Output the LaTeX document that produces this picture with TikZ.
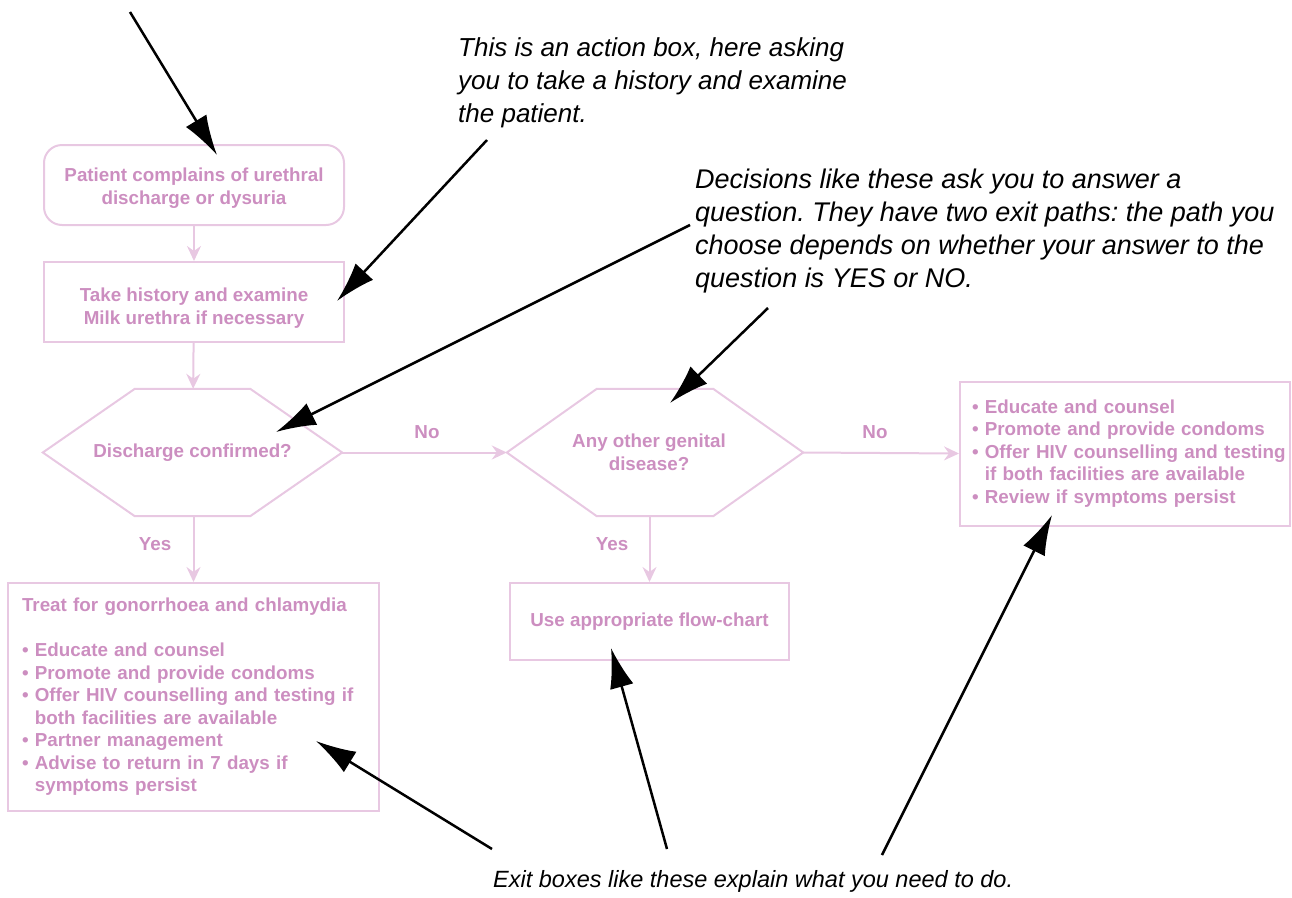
\documentclass[tikz,border=0pt]{standalone}
\usepackage{fontspec}
\setmainfont{Liberation Sans}
\usetikzlibrary{arrows.meta,calc}
\definecolor{pinkline}{RGB}{232,200,226}
\definecolor{pinktext}{RGB}{204,142,192}
\frenchspacing
\begin{document}
\begin{tikzpicture}[x=1pt,y=-1pt,
  boxtext/.style={inner sep=0pt, font=\fontsize{18.8}{22.5}\selectfont\bfseries, text=pinktext, align=center},
  box/.style={boxtext, draw=pinkline, line width=2pt},
  listbox/.style={box, align=left},
  hexline/.style={draw=pinkline, line width=2pt, line join=miter},
  flow/.style={draw=pinkline, line width=2pt, -{Stealth[length=15pt,width=14pt,inset=5pt]}},
  lbl/.style={font=\fontsize{18.8}{22}\selectfont\bfseries, text=pinktext, inner sep=0pt},
  note/.style={font=\fontsize{26}{33}\selectfont\itshape, align=left, anchor=north west, inner sep=0pt},
  pointer/.style={line width=2.5pt, -{Latex[length=40pt,width=24pt]}}
]
\useasboundingbox (0,0) rectangle (1292,897);

% flow boxes
\node[box, rounded corners=18pt, minimum width=300pt, minimum height=80pt] (start) at (194,185) {};
\node[boxtext] (starttxt) at (194,188) {Patient complains of urethral\\discharge or dysuria};
\node[box, minimum width=300pt, minimum height=80pt] (hist) at (194,302) {};
\node[boxtext] (histtxt) at (194,308) {Take history and examine\\Milk urethra if necessary};
\node[boxtext, minimum width=299pt, minimum height=127pt] (d1) at (192.5,452.5) {Discharge confirmed?};
\draw[hexline] (d1.west) -- ($(d1.north west)+(92,0)$) -- ($(d1.north east)+(-92,0)$) -- (d1.east) -- ($(d1.south east)+(-92,0)$) -- ($(d1.south west)+(92,0)$) -- cycle;
\node[boxtext, minimum width=296pt, minimum height=127pt] (d2) at (655,452.5) {\hspace*{-12pt}Any other genital\\\hspace*{-12pt}disease?};
\draw[hexline] (d2.west) -- ($(d2.north west)+(90,0)$) -- ($(d2.north east)+(-90,0)$) -- (d2.east) -- ($(d2.south east)+(-90,0)$) -- ($(d2.south west)+(90,0)$) -- cycle;

\node[listbox, inner xsep=12pt, text width=306pt, minimum height=144pt] (exitR) at (1125,453.5) {%
• Educate and counsel\\
• Promote and provide condoms\\
\mbox{• Offer HIV counselling and testing}\\
\phantom{• }if both facilities are available\\
• Review if symptoms persist};

\node[listbox, inner xsep=14pt, text width=343pt, minimum height=228pt] (exitL) at (193.5,697) {%
Treat for gonorrhoea and chlamydia\\[22.5pt]
• Educate and counsel\\
• Promote and provide condoms\\
• Offer HIV counselling and testing if\\
\phantom{• }both facilities are available\\
• Partner management\\
• Advise to return in 7 days if\\
\phantom{• }symptoms persist};

\node[box, minimum width=279pt, minimum height=77pt] (mid) at (649.5,621.5) {Use appropriate flow-chart};

% flow connectors
\draw[flow] (start) -- (hist);
\draw[flow] (hist) -- (d1);
\draw[flow] (d1.east) -- (d2.west);
\draw[flow] (d2.east) -- (exitR.west);
\draw[flow] (exitL.north |- d1.south) -- (exitL.north);
\draw[flow] (mid.north |- d2.south) -- (mid.north);

\node[lbl] (no1) at (427,432) {No};
\node[lbl] (no2) at (875,432) {No};
\node[lbl] (yes1) at (155,544) {Yes};
\node[lbl] (yes2) at (612,544) {Yes};

% annotations
\node[note] (n1) at (458,37) {This is an action box, here asking\\you to take a history and examine\\the patient.};
\node[note, font=\fontsize{27}{33}\selectfont\itshape] (n2) at (695,169) {Decisions like these ask you to answer a\\question. They have two exit paths: the path you\\choose depends on whether your answer to the\\question is YES or NO.};
\node[note, font=\fontsize{23.5}{33}\selectfont\itshape] (n3) at (493,870) {Exit boxes like these explain what you need to do.};

\coordinate (s1) at (130,12);   \coordinate (t1) at (217,155);
\coordinate (s2) at (487,140);  \coordinate (t2) at (337,301);
\coordinate (s3) at (690,225);  \coordinate (t3) at (276,432);
\coordinate (s4) at (768,308);  \coordinate (t4) at (670,403);
\coordinate (s5) at (492,849);  \coordinate (t5) at (316,741);
\coordinate (s6) at (667,849);  \coordinate (t6) at (611,648);
\coordinate (s7) at (882,855);  \coordinate (t7) at (1052,515);
\draw[pointer] (s1) -- (t1);
\draw[pointer] (s2) -- (t2);
\draw[pointer] (s3) -- (t3);
\draw[pointer] (s4) -- (t4);
\draw[pointer] (s5) -- (t5);
\draw[pointer] (s6) -- (t6);
\draw[pointer] (s7) -- (t7);
\end{tikzpicture}
\end{document}
